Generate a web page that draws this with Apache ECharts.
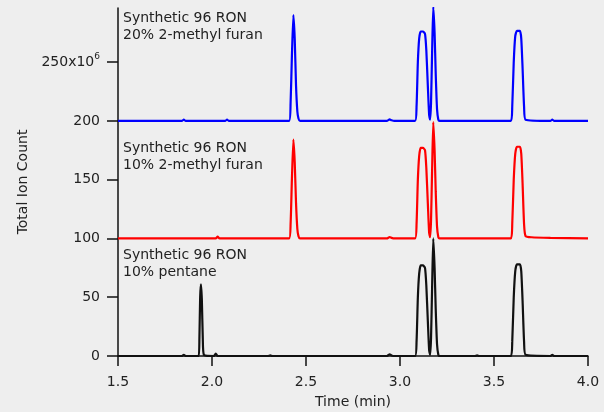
<!DOCTYPE html>
<html>
<head>
<meta charset="utf-8">
<script src="https://cdn.jsdelivr.net/npm/echarts@6/dist/echarts.min.js"></script>
<style>
html,body{margin:0;padding:0;background:#eeeeee;}
#chart{width:604px;height:412px;}
</style>
</head>
<body>
<div id="chart"></div>
<script>
// X axis (Time, min) ticks and Y axis (Total Ion Count, x10^6) ticks
var xTicks = [1.5, 2.0, 2.5, 3.0, 3.5, 4.0];
var yTicks = [0, 50, 100, 150, 200, 250];

// Black trace: Synthetic 96 RON, 10% pentane (baseline 0)
var blackT = [1.5, 1.84, 1.85, 1.86, 1.929, 1.933, 1.937, 1.941, 1.946, 1.951, 1.957, 2.01, 2.02, 2.03, 2.3, 2.31, 2.32, 2.93, 2.945, 2.955, 2.97,
  3.08, 3.088, 3.095, 3.102, 3.11, 3.122, 3.133, 3.14, 3.148, 3.155, 3.16, 3.165, 3.171, 3.177, 3.184, 3.19, 3.197, 3.204, 3.21,
  3.4, 3.41, 3.42, 3.59, 3.597, 3.605, 3.613, 3.622, 3.638, 3.645, 3.652, 3.66, 3.668, 3.8, 3.81, 3.82, 4.0];
var blackV = [0, 0, 1, 0, 0, 15, 50, 61, 48, 15, 1, 0, 2, 0, 0, 0.6, 0, 0, 1.5, 0.5, 0,
  0, 12, 50, 70, 77, 77, 75, 60, 30, 5, 1, 15, 60, 100, 75, 40, 10, 1, 0,
  0, 0.6, 0, 0, 12, 50, 72, 78, 78, 72, 47, 12, 1, 0, 1, 0, 0];

// Red trace: Synthetic 96 RON, 10% 2-methyl furan (baseline 100)
var redT = [1.5, 2.02, 2.03, 2.04, 2.41, 2.418, 2.425, 2.433, 2.44, 2.447, 2.454, 2.46, 2.468, 2.93, 2.945, 2.955, 2.97,
  3.08, 3.088, 3.095, 3.102, 3.11, 3.122, 3.133, 3.14, 3.148, 3.155, 3.16, 3.165, 3.171, 3.177, 3.184, 3.19, 3.197, 3.204, 3.21,
  3.59, 3.597, 3.605, 3.613, 3.622, 3.638, 3.645, 3.652, 3.66, 3.668, 3.7, 3.8, 4.0];
var redV = [100, 100, 101.5, 100, 100, 112, 150, 184, 165, 130, 108, 102, 100, 100, 101.2, 100.5, 100,
  100, 112, 150, 170, 177, 177, 175, 160, 130, 105, 101, 115, 160, 199, 175, 140, 110, 101, 100,
  100, 112, 150, 172, 178, 178, 172, 147, 112, 102, 101, 100.5, 100];

// Blue trace: Synthetic 96 RON, 20% 2-methyl furan (baseline 200)
var blueT = [1.5, 1.84, 1.85, 1.86, 2.07, 2.08, 2.09, 2.41, 2.418, 2.425, 2.433, 2.44, 2.447, 2.454, 2.46, 2.468, 2.93, 2.945, 2.955, 2.97,
  3.08, 3.088, 3.095, 3.102, 3.11, 3.122, 3.133, 3.14, 3.148, 3.155, 3.16, 3.165, 3.171, 3.177, 3.184, 3.19, 3.197, 3.204, 3.21,
  3.59, 3.597, 3.605, 3.613, 3.622, 3.638, 3.645, 3.652, 3.66, 3.668, 3.8, 3.81, 3.82, 4.0];
var blueV = [200, 200, 201, 200, 200, 201, 200, 200, 215, 255, 290, 270, 230, 208, 202, 200, 200, 201.2, 200.5, 200,
  200, 212, 250, 270, 276, 276, 274, 260, 230, 205, 201, 215, 260, 297, 275, 240, 210, 201, 200,
  200, 212, 250, 272, 276.5, 276.5, 270, 245, 212, 201, 200, 201, 200, 200];

// Trace annotations
var labels = [
  'Synthetic 96 RON\n20% 2-methyl furan',
  'Synthetic 96 RON\n10% 2-methyl furan',
  'Synthetic 96 RON\n10% pentane'
];

function pairs(t, v) { return t.map(function (x, i) { return [x, v[i]]; }); }

var FONT = 'DejaVu Sans';
var chart = echarts.init(document.getElementById('chart'), null, {renderer: 'canvas'});

function trace(t, v, color) {
  return {
    type: 'line', data: pairs(t, v), showSymbol: false, symbol: 'none',
    lineStyle: {color: color, width: 2.2}, smooth: 0.2, animation: false, silent: true
  };
}

chart.setOption({
  backgroundColor: '#eeeeee',
  animation: false,
  grid: {left: 118, right: 16, top: 8, bottom: 56, outerBoundsMode: 'none', containLabel: false},
  xAxis: {
    type: 'value', min: 1.5, max: 4.0, interval: 0.5,
    name: 'Time (min)', nameLocation: 'middle', nameGap: 39,
    nameTextStyle: {fontFamily: FONT, fontSize: 14, color: '#222'},
    axisLine: {show: true, onZero: false, lineStyle: {color: '#111', width: 1.5}},
    axisTick: {show: true, length: 10, lineStyle: {color: '#111', width: 1.5}, customValues: xTicks},
    axisLabel: {fontFamily: FONT, fontSize: 14, color: '#222', margin: 19, customValues: xTicks,
      formatter: function (v) { return v.toFixed(1); }},
    splitLine: {show: false}
  },
  yAxis: {
    type: 'value', min: 0, max: 296,
    name: 'Total Ion Count', nameLocation: 'middle', nameGap: 83,
    nameTextStyle: {fontFamily: FONT, fontSize: 14, color: '#222'},
    axisLine: {show: true, onZero: false, lineStyle: {color: '#111', width: 1.5}},
    axisTick: {show: true, length: 11, lineStyle: {color: '#111', width: 1.5}, customValues: yTicks},
    axisLabel: {fontFamily: FONT, fontSize: 14, color: '#222', margin: 18, lineHeight: 20, customValues: yTicks,
      formatter: function (v) { return v === 250 ? '250x10{sup|6}' : String(v); },
      rich: {sup: {fontSize: 9, fontFamily: FONT, color: '#222', verticalAlign: 'top', lineHeight: 10}}},
    splitLine: {show: false}
  },
  graphic: [
    {type: 'text', left: 123, top: 10, style: {text: labels[0], font: '14px "DejaVu Sans"', fill: '#222', lineHeight: 17}},
    {type: 'text', left: 123, top: 140, style: {text: labels[1], font: '14px "DejaVu Sans"', fill: '#222', lineHeight: 17}},
    {type: 'text', left: 123, top: 247, style: {text: labels[2], font: '14px "DejaVu Sans"', fill: '#222', lineHeight: 17}}
  ],
  series: [
    trace(blueT, blueV, '#0000ff'),
    trace(redT, redV, '#ff0000'),
    trace(blackT, blackV, '#111111')
  ]
});
</script>
</body>
</html>
